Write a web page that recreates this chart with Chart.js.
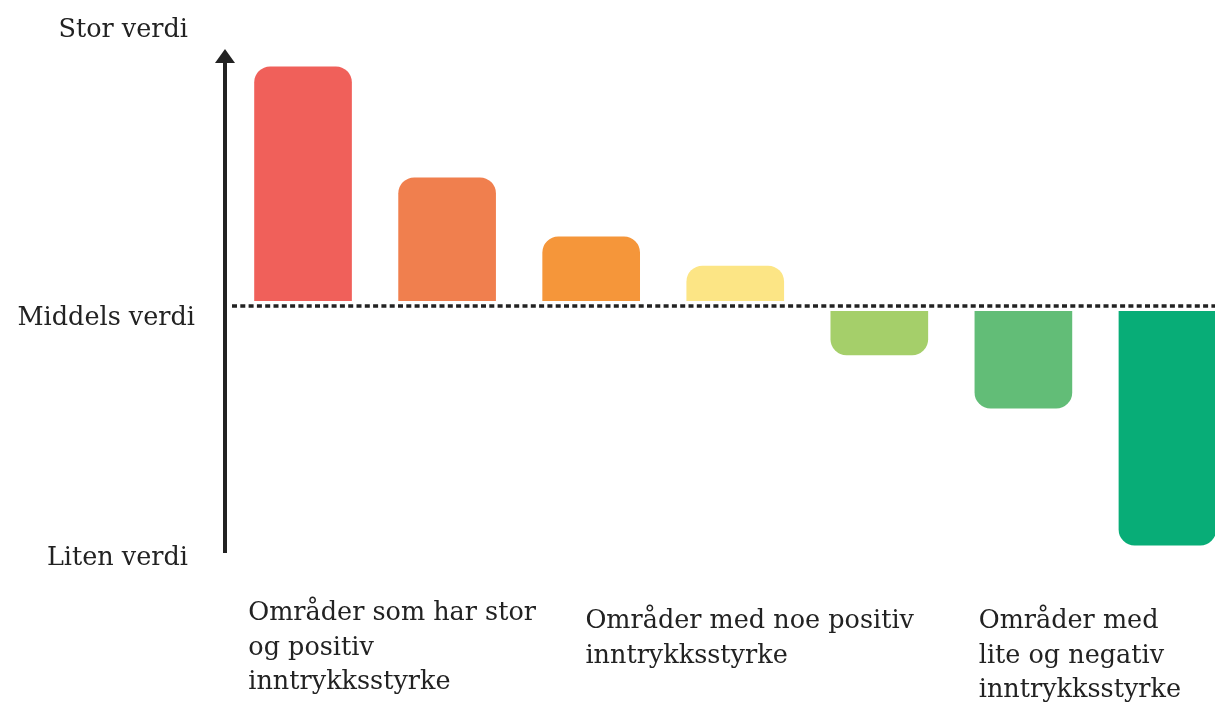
<!DOCTYPE html>
<html>
<head>
<meta charset="utf-8">
<script src="https://cdn.jsdelivr.net/npm/chart.js@4.4.0/dist/chart.umd.min.js"></script>
<style>
  html, body { margin: 0; padding: 0; background: #fff; }
  #wrap { width: 1215px; height: 705px; position: relative; }
</style>
</head>
<body>
<div id="wrap"><canvas id="chart"></canvas></div>
<script>
// bar values, relative to "Middels verdi" (0)
var categories = ["1", "2", "3", "4", "5", "6", "7"];
var values = [10, 5.36, 2.89, 1.67, -2.05, -4.27, -10];
var barColors = ["#F0605A", "#F07F4E", "#F5963A", "#FCE585", "#A5CF6A", "#62BD77", "#08AD77"];

// left side labels (top, middle, bottom)
var levelLabels = ["Stor verdi", "Middels verdi", "Liten verdi"];

// labels under the bars, and the x value they start at
var groupLabels = [
  ["Områder som har stor", "og positiv", "inntrykksstyrke"],
  ["Områder med noe positiv", "inntrykksstyrke"],
  ["Områder med", "lite og negativ", "inntrykksstyrke"]
];
var groupAnchor = [-0.38, 1.96, 4.69];

var textColor = "#222";
var font = '25.5px "DejaVu Serif"';

var decorations = {
  id: 'decorations',
  afterDatasetsDraw: function(chart) {
    var ctx = chart.ctx;
    var area = chart.chartArea;
    var x = chart.scales.x;
    var y = chart.scales.y;
    var zero = Math.round(y.getPixelForValue(0));

    ctx.save();
    // gap between bars and the middle line
    ctx.fillStyle = "#fff";
    ctx.fillRect(area.left, zero - 5, area.right - area.left, 10);

    // dotted middle line
    ctx.strokeStyle = textColor;
    ctx.lineWidth = 3.5;
    ctx.setLineDash([5, 3.3]);
    ctx.beginPath();
    ctx.moveTo(area.left + 1, zero);
    ctx.lineTo(area.right, zero);
    ctx.stroke();
    ctx.setLineDash([]);

    // vertical arrow
    var ax = area.left - 6;
    ctx.lineWidth = 4;
    ctx.beginPath();
    ctx.moveTo(ax, area.bottom);
    ctx.lineTo(ax, area.top + 10);
    ctx.stroke();
    ctx.fillStyle = textColor;
    ctx.beginPath();
    ctx.moveTo(ax, area.top - 1);
    ctx.lineTo(ax - 10, area.top + 13);
    ctx.lineTo(ax + 10, area.top + 13);
    ctx.closePath();
    ctx.fill();

    // level labels
    ctx.font = font;
    ctx.textAlign = "right";
    ctx.textBaseline = "middle";
    ctx.fillText(levelLabels[0], ax - 37, area.top - 20);
    ctx.fillText(levelLabels[1], ax - 30, zero + 12);
    ctx.fillText(levelLabels[2], ax - 37, area.bottom + 5);

    // group labels
    ctx.textAlign = "left";
    ctx.textBaseline = "alphabetic";
    for (var g = 0; g < groupLabels.length; g++) {
      var gx = x.getPixelForValue(groupAnchor[g]);
      var top = g === 0 ? area.bottom + 67 : area.bottom + 75;
      for (var l = 0; l < groupLabels[g].length; l++) {
        ctx.fillText(groupLabels[g][l], gx, top + l * 34.5);
      }
    }
    ctx.restore();
  }
};

var ctx = document.getElementById("chart").getContext("2d");
var chart = new Chart(ctx, {
  type: 'bar',
  data: {
    labels: categories,
    datasets: [{
      data: values.map(function(v, i) { return {x: i, y: v}; }),
      backgroundColor: barColors,
      borderWidth: 0,
      borderRadius: 16,
      borderSkipped: 'start',
      barThickness: 97
    }]
  },
  options: {
    responsive: true,
    maintainAspectRatio: false,
    animation: false,
    layout: { padding: { left: 231, top: 50, right: 0, bottom: 152 } },
    plugins: {
      legend: { display: false },
      tooltip: { enabled: false }
    },
    scales: {
      x: { type: 'linear', offset: false, min: -0.5, max: 6.33, display: false },
      y: { min: -10.33, max: 10.7, display: false }
    }
  },
  plugins: [decorations]
});
</script>
</body>
</html>
